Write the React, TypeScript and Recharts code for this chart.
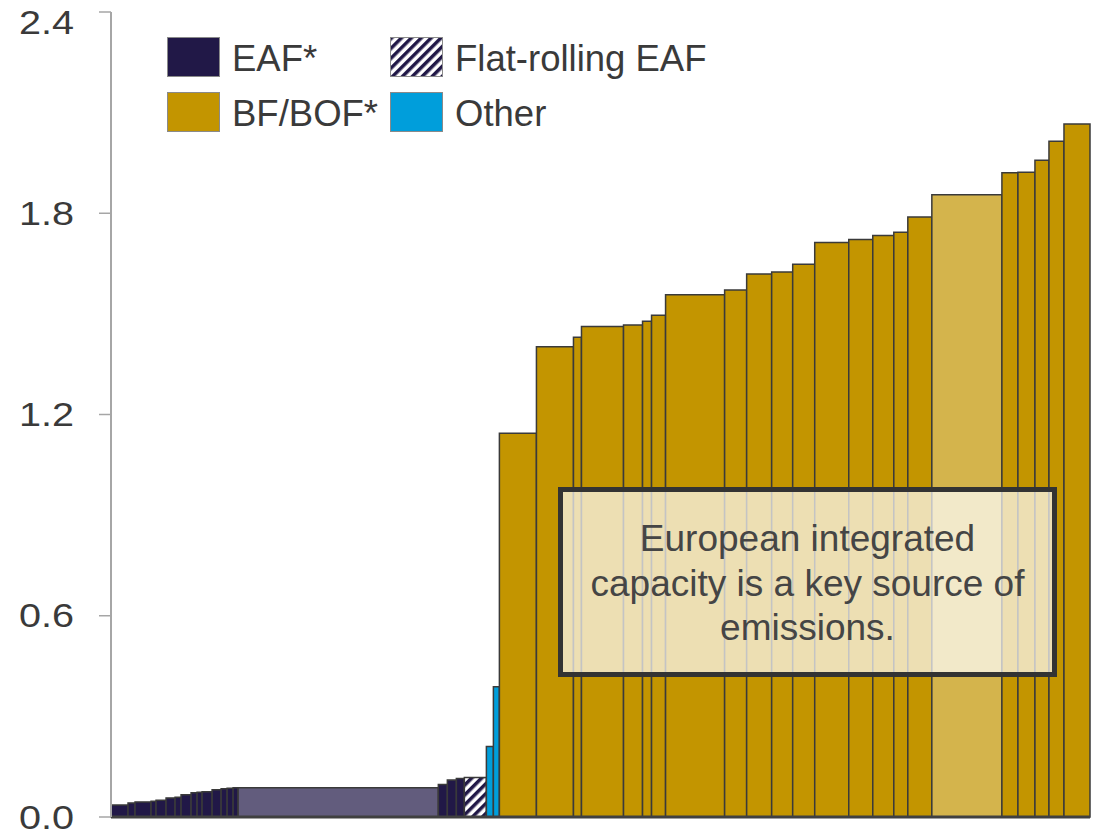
import React from "react";
import {
  ComposedChart,
  Line,
  XAxis,
  YAxis,
  ReferenceArea,
  ReferenceLine,
  Legend,
} from "recharts";

// Capacity (bar widths) and emission intensity (bar heights), left to right
const capacity = [
  17, 7, 16, 5, 10, 9, 6, 10, 6, 5, 10, 9, 6, 6, 5, 200, 9, 9, 8, 22, 7, 6, 37,
  37, 8, 42, 19, 9, 14, 59, 22, 25, 21, 22, 34, 24, 21, 14, 24, 70, 16, 17, 14,
  15, 26,
];
const intensity = [
  0.036, 0.042, 0.045, 0.047, 0.05, 0.057, 0.059, 0.066, 0.072, 0.074, 0.075,
  0.081, 0.084, 0.086, 0.087, 0.087, 0.097, 0.11, 0.115, 0.118, 0.21, 0.388,
  1.144, 1.402, 1.43, 1.462, 1.467, 1.478, 1.496, 1.557, 1.571, 1.619, 1.625,
  1.648, 1.713, 1.722, 1.734, 1.743, 1.789, 1.855, 1.921, 1.922, 1.958, 2.015,
  2.066,
];
// EU = highlighted European capacity
const route = [
  "EAF", "EAF", "EAF", "EAF", "EAF", "EAF", "EAF", "EAF", "EAF", "EAF",
  "EAF", "EAF", "EAF", "EAF", "EAF", "EAF-EU", "EAF", "EAF", "EAF", "Flat",
  "Other", "Other",
  "BOF", "BOF", "BOF", "BOF", "BOF", "BOF", "BOF", "BOF", "BOF", "BOF",
  "BOF", "BOF", "BOF", "BOF", "BOF", "BOF", "BOF", "BOF-EU", "BOF", "BOF",
  "BOF", "BOF", "BOF",
];
const yTicks = [0, 0.6, 1.2, 1.8, 2.4];
const legendItems = [
  { label: "EAF*", key: "EAF" },
  { label: "Flat-rolling EAF", key: "Flat" },
  { label: "BF/BOF*", key: "BOF" },
  { label: "Other", key: "Other" },
];
const noteLines = ["European integrated", "capacity is a key source of", "emissions."];

const FILLS: Record<string, string> = {
  EAF: "#211847",
  "EAF-EU": "#625C7D",
  Flat: "url(#hatch)",
  Other: "#009EDB",
  BOF: "#C39500",
  "BOF-EU": "#D4B44C",
};

const FONT = '"Liberation Sans", Arial, sans-serif';
const TEXT = "#3a3a3a";

let cum = 0;
const bars = capacity.map((w, i) => {
  const start = cum;
  cum += w;
  return { start, end: cum, mid: start + w / 2, value: intensity[i], route: route[i] };
});
const total = cum;

// tick labels in the original are drawn a bit wide; keep the top one inside the page
function YTick(props: any) {
  const { x, y, payload } = props;
  const ty = Math.max(y, 22);
  return (
    <g transform={`translate(${x},${ty}) scale(1.2,1)`}>
      <text
        x={0}
        y={0}
        dy="0.355em"
        textAnchor="end"
        fill={TEXT}
        fontSize={33}
        fontFamily={FONT}
      >
        {Number(payload.value).toFixed(1)}
      </text>
    </g>
  );
}

function Swatch({ kind }: { kind: string }) {
  return (
    <svg width={53} height={40} style={{ display: "block" }}>
      <defs>
        <pattern
          id="hatchLegend"
          width="7"
          height="7"
          patternUnits="userSpaceOnUse"
          patternTransform="rotate(45)"
        >
          <rect width="7" height="7" fill="#fff" />
          <rect width="3.5" height="7" fill="#211847" />
        </pattern>
      </defs>
      <rect
        x={0.5}
        y={0.5}
        width={52}
        height={39}
        fill={kind === "Flat" ? "url(#hatchLegend)" : FILLS[kind]}
        stroke="#8a8a8a"
        strokeWidth={1}
      />
    </svg>
  );
}

function renderLegend() {
  return (
    <div style={{ position: "relative", width: 560, height: 100, fontFamily: FONT }}>
      {legendItems.map((item, i) => {
        const col = i % 2;
        const row = Math.floor(i / 2);
        return (
          <div
            key={item.key}
            style={{
              position: "absolute",
              left: col * 223,
              top: row * 55,
              display: "flex",
              alignItems: "center",
              whiteSpace: "nowrap",
            }}
          >
            <Swatch kind={item.key} />
            <span
              style={{
                marginLeft: 12,
                fontSize: 36.5,
                lineHeight: "40px",
                color: TEXT,
                position: "relative",
                top: 2,
              }}
            >
              {item.label}
            </span>
          </div>
        );
      })}
    </div>
  );
}

export default function App() {
  return (
    <div style={{ position: "absolute", left: 0, top: 0, width: 1107, height: 835 }}>
      <ComposedChart
        width={1107}
        height={835}
        data={bars}
        margin={{ top: 12, right: 17, bottom: 18, left: 0 }}
      >
        <defs>
          <pattern
            id="hatch"
            width="7"
            height="7"
            patternUnits="userSpaceOnUse"
            patternTransform="rotate(45)"
          >
            <rect width="7" height="7" fill="#fff" />
            <rect width="3.5" height="7" fill="#211847" />
          </pattern>
        </defs>
        <XAxis dataKey="mid" type="number" domain={[0, total]} hide />
        <YAxis
          type="number"
          domain={[0, 2.4]}
          ticks={yTicks}
          width={111}
          axisLine={{ stroke: "#A6A6A6", strokeWidth: 2 }}
          tickLine={{ stroke: "#A6A6A6", strokeWidth: 1.5 }}
          tickSize={12}
          tickMargin={25}
          tick={<YTick />}
          interval={0}
        />
        {bars.map((b, i) => (
          <ReferenceArea
            key={i}
            x1={b.start}
            x2={b.end}
            y1={0}
            y2={b.value}
            fill={FILLS[b.route]}
            fillOpacity={1}
            stroke="#3a3a3a"
            strokeWidth={1.5}
            strokeOpacity={1}
            ifOverflow="visible"
          />
        ))}
        <ReferenceLine y={0} stroke="#404040" strokeWidth={3} />
        <Line
          dataKey="value"
          stroke="none"
          dot={false}
          activeDot={false}
          legendType="none"
          isAnimationActive={false}
        />
        <Legend
          content={renderLegend}
          layout="horizontal"
          verticalAlign="middle"
          wrapperStyle={{ position: "absolute", top: 37, left: 167, width: 560 }}
        />
      </ComposedChart>
      <div
        style={{
          position: "absolute",
          left: 558,
          top: 487,
          width: 499,
          height: 190,
          boxSizing: "border-box",
          border: "5px solid #333",
          background: "rgba(255,255,255,0.7)",
          display: "flex",
          flexDirection: "column",
          justifyContent: "center",
          alignItems: "center",
          fontFamily: FONT,
          fontSize: 37,
          lineHeight: "44.5px",
          color: "#454545",
          textAlign: "center",
          paddingTop: 4,
        }}
      >
        {noteLines.map((l) => (
          <div key={l}>{l}</div>
        ))}
      </div>
    </div>
  );
}
